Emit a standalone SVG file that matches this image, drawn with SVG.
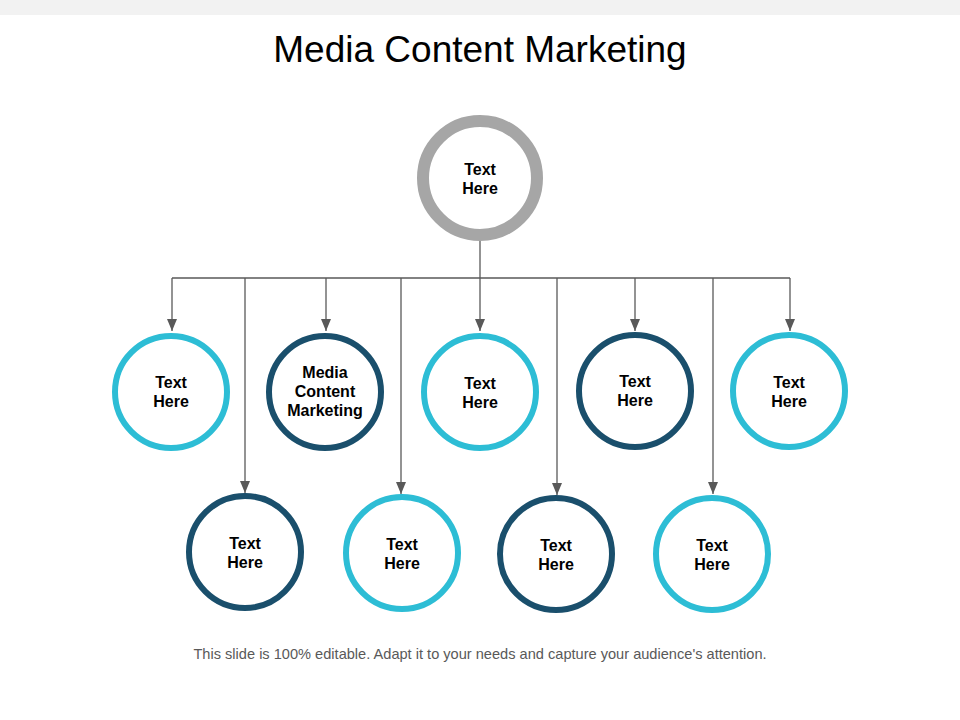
<svg xmlns="http://www.w3.org/2000/svg" width="960" height="720" viewBox="0 0 960 720">
<defs>
<marker id="arr" markerWidth="12" markerHeight="10" refX="12" refY="5" orient="auto" markerUnits="userSpaceOnUse">
<path d="M0,0 L12,5 L0,10 Z" fill="#595959"/>
</marker>
<style>
.lbl{font-family:"Liberation Sans",Arial,sans-serif;font-weight:bold;font-size:16px;fill:#000;text-anchor:middle}
.ring{fill:#fff}
.light{stroke:#2dbdd5;stroke-width:6}
.dark{stroke:#1a4f6c;stroke-width:6}
.conn{stroke:#595959;stroke-width:1.3;fill:none}
</style>
</defs>
<rect width="960" height="720" fill="#fff"/>
<rect width="960" height="15" fill="#f2f2f2"/>
<text x="480" y="62" font-family="Liberation Sans,Arial,sans-serif" font-size="37" text-anchor="middle" fill="#000">Media Content Marketing</text>
<g id="connectors">
<path class="conn" d="M480,241 V331" marker-end="url(#arr)"/>
<path class="conn" d="M172,278 H790"/>
<path class="conn" d="M172,278 V331" marker-end="url(#arr)"/>
<path class="conn" d="M326,278 V331" marker-end="url(#arr)"/>
<path class="conn" d="M635,278 V331" marker-end="url(#arr)"/>
<path class="conn" d="M790,278 V331" marker-end="url(#arr)"/>
<path class="conn" d="M245,278 V493" marker-end="url(#arr)"/>
<path class="conn" d="M401,278 V494" marker-end="url(#arr)"/>
<path class="conn" d="M557,278 V495" marker-end="url(#arr)"/>
<path class="conn" d="M713,278 V494" marker-end="url(#arr)"/>
</g>
<g id="root">
<circle cx="480" cy="178" r="57" fill="#fff" stroke="#a6a6a6" stroke-width="12"/>
<text class="lbl" x="480" y="175">Text</text>
<text class="lbl" x="480" y="194">Here</text>
</g>
<g id="n1">
<circle class="ring light" cx="171" cy="392" r="56"/>
<text class="lbl" x="171" y="388">Text</text>
<text class="lbl" x="171" y="407">Here</text>
</g>
<g id="n2">
<circle class="ring dark" cx="325" cy="392" r="56"/>
<text class="lbl" x="325" y="378">Media</text>
<text class="lbl" x="325" y="397">Content</text>
<text class="lbl" x="325" y="416">Marketing</text>
</g>
<g id="n3">
<circle class="ring light" cx="480" cy="392" r="56"/>
<text class="lbl" x="480" y="389">Text</text>
<text class="lbl" x="480" y="408">Here</text>
</g>
<g id="n4">
<circle class="ring dark" cx="635" cy="391" r="56"/>
<text class="lbl" x="635" y="387">Text</text>
<text class="lbl" x="635" y="406">Here</text>
</g>
<g id="n5">
<circle class="ring light" cx="789" cy="391" r="56"/>
<text class="lbl" x="789" y="388">Text</text>
<text class="lbl" x="789" y="407">Here</text>
</g>
<g id="n6">
<circle class="ring dark" cx="245" cy="552" r="56"/>
<text class="lbl" x="245" y="549">Text</text>
<text class="lbl" x="245" y="568">Here</text>
</g>
<g id="n7">
<circle class="ring light" cx="402" cy="553" r="56"/>
<text class="lbl" x="402" y="550">Text</text>
<text class="lbl" x="402" y="569">Here</text>
</g>
<g id="n8">
<circle class="ring dark" cx="556" cy="554" r="56"/>
<text class="lbl" x="556" y="551">Text</text>
<text class="lbl" x="556" y="570">Here</text>
</g>
<g id="n9">
<circle class="ring light" cx="712" cy="554" r="56"/>
<text class="lbl" x="712" y="551">Text</text>
<text class="lbl" x="712" y="570">Here</text>
</g>
<text x="480" y="659" font-family="Liberation Sans,Arial,sans-serif" font-size="14.6" text-anchor="middle" fill="#595959">This slide is 100% editable.  Adapt it to your needs and capture your audience's attention.</text>
</svg>
